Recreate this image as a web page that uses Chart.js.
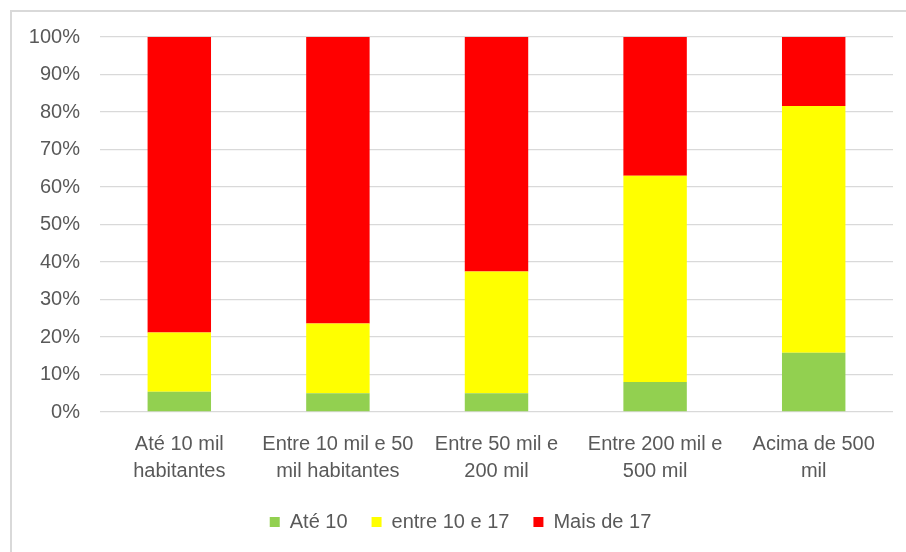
<!DOCTYPE html>
<html>
<head>
<meta charset="utf-8">
<script src="https://cdn.jsdelivr.net/npm/chart.js@4"></script>
<style>
    html, body { margin: 0; padding: 0; background: #fff; overflow: hidden; }
    #frame { position: absolute; left: 10px; top: 10px; width: 1000px; height: 1000px; border: 2px solid #d9d9d9; box-sizing: border-box; }
    #wrap { position: absolute; left: 0; top: 0; width: 906px; height: 560px; }
</style>
</head>
<body>
<div id="frame"></div>
<div id="wrap"><canvas id="chart"></canvas></div>
<script>
// categorias (tamanho do município)
const categories = [
    ['Até 10 mil', 'habitantes'],
    ['Entre 10 mil e 50', 'mil habitantes'],
    ['Entre 50 mil e', '200 mil'],
    ['Entre 200 mil e', '500 mil'],
    ['Acima de 500', 'mil']
];

// séries em %
const ate10 = [5.4, 5.0, 5.0, 8.0, 15.8];
const entre10e17 = [15.8, 18.6, 32.5, 55.0, 65.8];
const maisDe17 = [78.8, 76.4, 62.5, 37.0, 18.4];

const seriesNames = ['Até 10', 'entre 10 e 17', 'Mais de 17'];
const seriesColors = ['#92d050', '#ffff00', '#ff0000'];

const FONT = "'Liberation Sans', Arial, sans-serif";
const TEXT_COLOR = '#595959';

const ctx = document.getElementById('chart');

new Chart(ctx, {
    type: 'bar',
    data: {
        labels: categories,
        datasets: [ate10, entre10e17, maisDe17].map((vals, i) => ({
            label: seriesNames[i],
            data: vals,
            backgroundColor: seriesColors[i],
            borderWidth: 0,
            barPercentage: 0.4,
            categoryPercentage: 1.0
        }))
    },
    options: {
        responsive: true,
        maintainAspectRatio: false,
        animation: false,
        layout: { padding: { left: 28, right: 13, top: 37, bottom: 18 } },
        plugins: {
            tooltip: { enabled: false },
            legend: {
                position: 'bottom',
                labels: {
                    boxWidth: 10,
                    boxHeight: 10,
                    padding: 24,
                    color: TEXT_COLOR,
                    font: { family: FONT, size: 20 }
                }
            }
        },
        scales: {
            x: {
                stacked: true,
                grid: { display: false },
                border: { display: false },
                ticks: {
                    color: TEXT_COLOR,
                    padding: 11,
                    maxRotation: 0,
                    autoSkip: false,
                    font: { family: FONT, size: 20, lineHeight: 1.35 }
                },
                afterFit: (scale) => { scale.height = 76; }
            },
            y: {
                stacked: true,
                min: 0,
                max: 100,
                grid: { color: '#d9d9d9', lineWidth: 1.3, drawTicks: false },
                border: { display: false },
                ticks: {
                    stepSize: 10,
                    padding: 20,
                    color: TEXT_COLOR,
                    font: { family: FONT, size: 20 },
                    callback: (v) => v + '%'
                },
                afterFit: (scale) => { scale.width = 72; }
            }
        }
    }
});
</script>
</body>
</html>
